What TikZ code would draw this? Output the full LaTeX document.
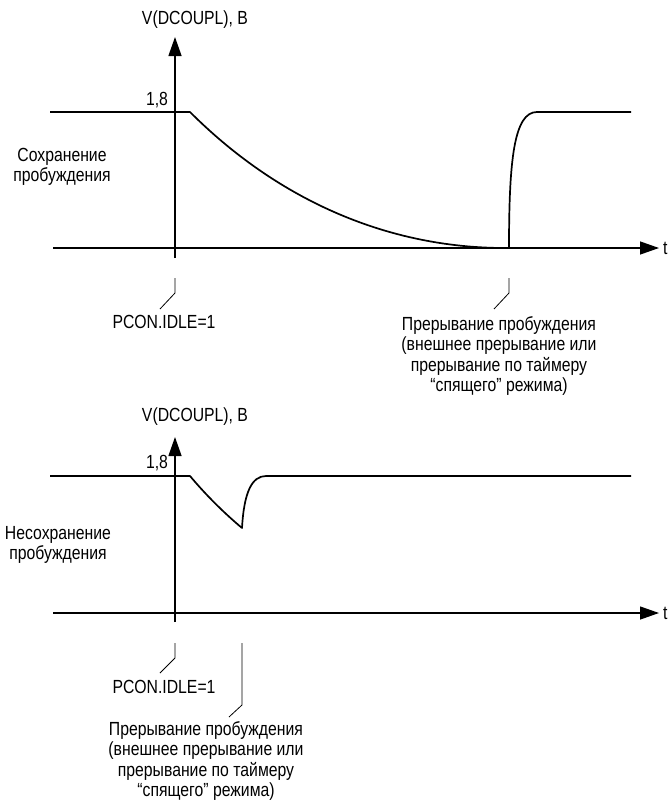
\documentclass[tikz,border=0pt]{standalone}
\usepackage{fontspec}
\setmainfont[FakeStretch=0.83]{Liberation Sans}
\usetikzlibrary{arrows.meta}
\begin{document}
\begin{tikzpicture}[x=1pt,y=-1pt,
  lbl/.style={inner sep=0pt, font=\fontsize{19}{20.5}\selectfont},
  axis/.style={line width=1.3pt, -{Triangle[length=19pt,width=13pt]}},
  tick/.style={line width=1.3pt},
  sig/.style={line width=1.7pt, line join=round},
  leader/.style={line width=0.8pt}]
\useasboundingbox (0,0) rectangle (670,811);

% ---------- top chart ----------
\coordinate (ya0) at (175,258);
\coordinate (ya1) at (175,37);
\coordinate (xa0) at (53,248);
\coordinate (xa1) at (659,248);
\draw[axis] (ya0) -- (ya1);
\draw[axis] (xa0) -- (xa1);
\node[lbl] (vA) at (195,20) {V(DCOUPL), B};
\node[lbl] (hA) at (157,100) {1,8};
\node[lbl, anchor=west] (tA) at (663,248) {t};
\node[lbl, align=center] (keep) at (62,167) {Сохранение\\пробуждения};

\coordinate (a0) at (50,112);
\coordinate (a1) at (190,112);
\coordinate (a2) at (505,248);
\coordinate (a3) at (524,248);
\coordinate (a4) at (509,248);
\coordinate (a5) at (537,112);
\coordinate (a6) at (631,112);
\draw[sig] (a0) -- (a1) .. controls (280,202) and (390,248) .. (a2) -- (a3);
\draw[sig] (a4) .. controls (509,160) and (514,112) .. (a5) -- (a6);

\coordinate (la0) at (175,278);
\coordinate (la1) at (175,293);
\coordinate (la2) at (160,309);
\draw[leader] (la0) -- (la1) -- (la2);
\node[lbl] (pconA) at (164,322) {PCON.IDLE=1};

\coordinate (lb0) at (509,278);
\coordinate (lb1) at (509,293);
\coordinate (lb2) at (494,309);
\draw[leader] (lb0) -- (lb1) -- (lb2);
\node[lbl, align=center] (wakeA) at (499,356) {Прерывание пробуждения\\(внешнее прерывание или\\прерывание по таймеру\\“спящего” режима)};

% ---------- bottom chart ----------
\coordinate (yb0) at (175,622);
\coordinate (yb1) at (175,437);
\coordinate (xb0) at (53,613);
\coordinate (xb1) at (659,613);
\draw[axis] (yb0) -- (yb1);
\draw[axis] (xb0) -- (xb1);
\node[lbl] (vB) at (195,417) {V(DCOUPL), B};
\node[lbl] (hB) at (157,463) {1,8};
\node[lbl, anchor=west] (tB) at (663,613) {t};
\node[lbl, align=center] (nokeep) at (58,545) {Несохранение\\пробуждения};

\coordinate (b0) at (50,476);
\coordinate (b1) at (190,476);
\coordinate (b2) at (242,528);
\coordinate (b3) at (266,476);
\coordinate (b4) at (631,476);
\draw[sig] (b0) -- (b1) .. controls (206,495) and (223,512) .. (b2)
  .. controls (244,492) and (252,476) .. (b3) -- (b4);

\coordinate (lc0) at (175,643);
\coordinate (lc1) at (175,658);
\coordinate (lc2) at (160,673);
\draw[leader] (lc0) -- (lc1) -- (lc2);
\node[lbl] (pconB) at (164,687) {PCON.IDLE=1};

\coordinate (ld0) at (242,643);
\coordinate (ld1) at (242,705);
\coordinate (ld2) at (229,717);
\draw[leader] (ld0) -- (ld1) -- (ld2);
\node[lbl, align=center] (wakeB) at (206,761) {Прерывание пробуждения\\(внешнее прерывание или\\прерывание по таймеру\\“спящего” режима)};
\end{tikzpicture}
\end{document}
